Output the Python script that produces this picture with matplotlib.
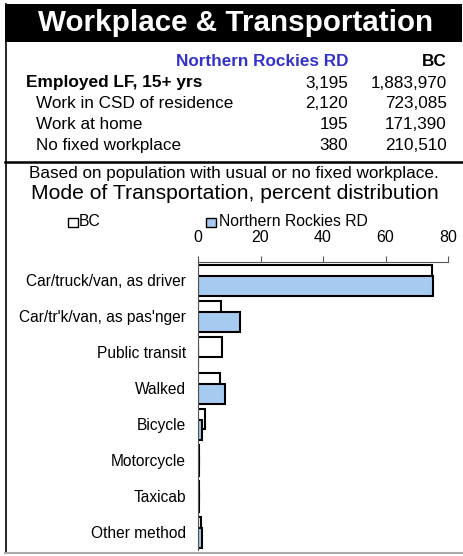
import numpy as np
import matplotlib
matplotlib.use("Agg")
import matplotlib.pyplot as plt
from matplotlib.patches import Rectangle
from matplotlib.lines import Line2D

plt.rcParams['font.family'] = ['Liberation Sans', 'DejaVu Sans']

W, H = 463, 556

title = 'Workplace & Transportation'
region = 'Northern Rockies RD'
province = 'BC'

row_labels = ['Employed LF, 15+ yrs', 'Work in CSD of residence',
              'Work at home', 'No fixed workplace']
region_counts = ['3,195', '2,120', '195', '380']
bc_counts = ['1,883,970', '723,085', '171,390', '210,510']

modes = ['Car/truck/van, as driver', "Car/tr'k/van, as pas'nger", 'Public transit',
         'Walked', 'Bicycle', 'Motorcycle', 'Taxicab', 'Other method']
bc_pct = [74.9, 7.2, 7.6, 7.1, 2.1, 0.2, 0.3, 1.0]
region_pct = [75.3, 13.3, 0.0, 8.7, 1.4, 0.2, 0.4, 1.4]

blue = '#A6CAF0'


def fx(x):
    return x / W


def fy(y):
    return 1 - y / H


fig = plt.figure(figsize=(W / 100, H / 100), dpi=100)

# title band
fig.patches.append(Rectangle((fx(5), fy(42)), fx(462) - fx(5), fy(4) - fy(42),
                             transform=fig.transFigure, facecolor='black',
                             edgecolor='none'))
fig.text(fx(236), fy(23), title, color='white', fontsize=21.3, fontweight='bold',
         ha='center', va='center')

# frame lines
fig.lines.append(Line2D([fx(5.5), fx(5.5)], [fy(4), fy(552)], transform=fig.transFigure,
                        color='black', lw=1.2))
fig.lines.append(Line2D([fx(5), fx(462)], [fy(162), fy(162)], transform=fig.transFigure,
                        color='black', lw=1.8))
fig.lines.append(Line2D([fx(5), fx(463)], [fy(553), fy(553)], transform=fig.transFigure,
                        color='#AAAAAA', lw=1.5))

# table
fig.text(fx(348), fy(61), region, color='#3333CC', fontsize=12.3, fontweight='bold',
         ha='right', va='center')
fig.text(fx(447), fy(61), province, fontsize=12.3, fontweight='bold',
         ha='right', va='center')
row_y = [83, 104, 125, 146]
for i, lab in enumerate(row_labels):
    if i == 0:
        fig.text(fx(26), fy(row_y[i]), lab, fontsize=12.4, fontweight='bold',
                 ha='left', va='center')
    else:
        fig.text(fx(36), fy(row_y[i]), lab, fontsize=12.3, ha='left', va='center')
    fig.text(fx(348), fy(row_y[i]), region_counts[i], fontsize=12.3, ha='right', va='center')
    fig.text(fx(447), fy(row_y[i]), bc_counts[i], fontsize=12.3, ha='right', va='center')

fig.text(fx(234), fy(173), 'Based on population with usual or no fixed workplace.',
         fontsize=12.3, ha='center', va='center')
fig.text(fx(235), fy(193), 'Mode of Transportation, percent distribution',
         fontsize=15.2, ha='center', va='center')

# legend
fig.patches.append(Rectangle((fx(68), fy(227)), fx(10), 9 / H, transform=fig.transFigure,
                             facecolor='white', edgecolor='black', lw=1))
fig.text(fx(79), fy(222), province, fontsize=11.3, ha='left', va='center')
fig.patches.append(Rectangle((fx(206), fy(227)), fx(10), 9 / H, transform=fig.transFigure,
                             facecolor=blue, edgecolor='black', lw=1))
fig.text(fx(219), fy(222), region, fontsize=11.3, ha='left', va='center')

# bar chart
ax = fig.add_axes([fx(198), fy(550), fx(448) - fx(198), fy(262) - fy(550)])
y = np.arange(len(modes))
ax.barh(y - 0.14, bc_pct, height=0.56, color='white', edgecolor='black', lw=1.5)
ax.barh(y + 0.16, region_pct, height=0.56, color=blue, edgecolor='black', lw=1.5)

ax.set_xlim(0, 80)
ax.set_ylim(len(modes) - 0.5, -0.5)
ax.set_xticks([0, 20, 40, 60, 80])
ax.xaxis.tick_top()
ax.tick_params(axis='x', direction='out', length=4, color='#555555',
               labelsize=11.5, pad=8)
ax.set_yticks(y)
ax.set_yticklabels(modes, fontsize=11.2)
ax.tick_params(axis='y', length=0, pad=8.5)
for s in ['right', 'bottom']:
    ax.spines[s].set_visible(False)
ax.spines['top'].set_color('#555555')
ax.spines['left'].set_color('#555555')

fig.savefig('out.png', dpi=100)
